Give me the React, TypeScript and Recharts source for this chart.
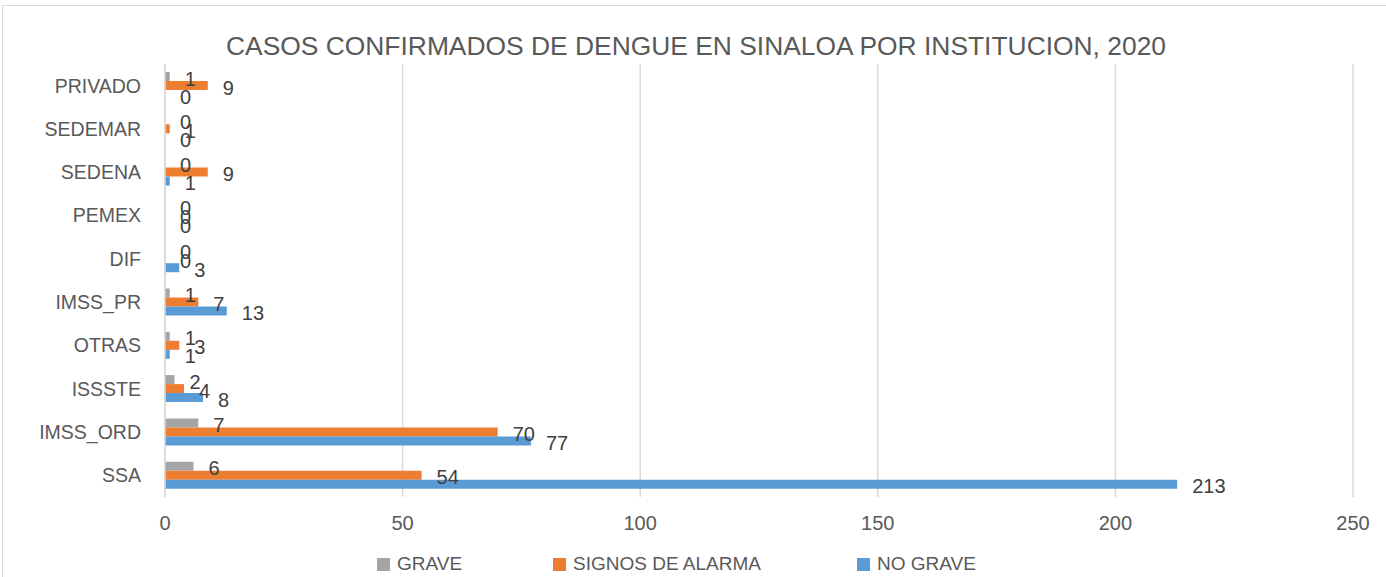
import React from "react";
import { BarChart, Bar, XAxis, YAxis, CartesianGrid, LabelList } from "recharts";

const categories = ["PRIVADO", "SEDEMAR", "SEDENA", "PEMEX", "DIF", "IMSS_PR", "OTRAS", "ISSSTE", "IMSS_ORD", "SSA"];
const grave = [1, 0, 0, 0, 0, 1, 1, 2, 7, 6];
const signosDeAlarma = [9, 1, 9, 0, 0, 7, 3, 4, 70, 54];
const noGrave = [0, 0, 1, 0, 3, 13, 1, 8, 77, 213];
const xTicks = [0, 50, 100, 150, 200, 250];

const series = [
  { key: "grave", name: "GRAVE", color: "#A5A5A5" },
  { key: "signos", name: "SIGNOS DE ALARMA", color: "#ED7D31" },
  { key: "noGrave", name: "NO GRAVE", color: "#5B9BD5" },
];

const data = categories.map((c, i) => ({
  name: c,
  grave: grave[i],
  signos: signosDeAlarma[i],
  noGrave: noGrave[i],
}));

const FONT = "'Liberation Sans', Arial, sans-serif";

const renderLabel = (props: any) => {
  const { x, y, width, height, value } = props;
  const xx = Number(x) + Math.max(0, Number(width || 0)) + 15;
  const yy = Number(y) + Number(height || 0) / 2 + 2;
  return (
    <text x={xx} y={yy} fill="#404040" fontSize={20} fontFamily={FONT} textAnchor="start" dominantBaseline="central">
      {value}
    </text>
  );
};

export default function App() {
  return (
    <div style={{ position: "fixed", left: 0, top: 0, width: 1386, height: 577, overflow: "hidden", background: "#fff", fontFamily: FONT }}>
      <div style={{ position: "absolute", left: 2, top: 5, width: 1420, height: 620, border: "1px solid #d9d9d9" }} />
      <div style={{ position: "absolute", left: 0, width: 1392, top: 31, textAlign: "center", fontSize: 26.4, color: "#595959", lineHeight: "30px", whiteSpace: "nowrap" }}>
        CASOS CONFIRMADOS DE DENGUE EN SINALOA POR INSTITUCION, 2020
      </div>
      <div style={{ position: "absolute", left: 0, top: 0 }}>
        <BarChart
          width={1386}
          height={577}
          data={data}
          layout="vertical"
          margin={{ top: 64, right: 33, bottom: 50, left: 0 }}
          barGap={0}
          barSize={9}
        >
          <CartesianGrid horizontal={false} vertical={true} stroke="#d9d9d9" strokeWidth={1.5} />
          <XAxis
            type="number"
            domain={[0, 250]}
            ticks={xTicks}
            axisLine={false}
            tickLine={false}
            tickSize={0}
            tickMargin={19}
            height={30}
            tick={{ fontSize: 20, fill: "#595959", fontFamily: FONT }}
          />
          <YAxis
            type="category"
            dataKey="name"
            width={165}
            axisLine={{ stroke: "#d9d9d9", strokeWidth: 1.5 }}
            tickLine={false}
            tickSize={0}
            tickMargin={24}
            interval={0}
            tick={{ fontSize: 19.5, fill: "#595959", fontFamily: FONT }}
          />
          {series.map((s) => (
            <Bar key={s.key} dataKey={s.key} name={s.name} fill={s.color} minPointSize={0.01} isAnimationActive={false}>
              <LabelList dataKey={s.key} content={renderLabel} />
            </Bar>
          ))}
        </BarChart>
      </div>
      <div style={{ position: "absolute", top: 551, left: 0, width: 1386, height: 26 }}>
        {series.map((s, i) => {
          const xs = [377, 553, 857];
          return (
            <div key={s.key} style={{ position: "absolute", left: xs[i], top: 0, display: "flex", alignItems: "center", fontSize: 19, color: "#595959", lineHeight: "26px", whiteSpace: "nowrap" }}>
              <span style={{ display: "inline-block", width: 13, height: 13, background: s.color, marginRight: 7 }} />
              {s.name}
            </div>
          );
        })}
      </div>
    </div>
  );
}
